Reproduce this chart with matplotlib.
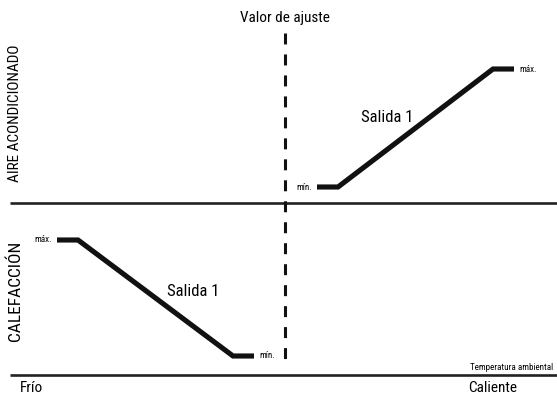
import matplotlib
matplotlib.use("Agg")
import matplotlib.pyplot as plt

plt.rcParams["font.family"] = ["Roboto Condensed", "DejaVu Sans"]
plt.rcParams["lines.scale_dashes"] = False

# schematic coordinates (image units, y grows downward)
heat_x = [57, 78, 233, 254]
heat_y = [240, 240, 356, 356]
cool_x = [317, 338, 493, 514]
cool_y = [187, 187, 69, 69]
setpoint_x = 285
axis_levels = [203, 375]

fig = plt.figure(figsize=(5.57, 3.96), dpi=100)
ax = fig.add_axes([0, 0, 1, 1])
ax.set_xlim(0, 557)
ax.set_ylim(396, 0)
ax.axis("off")

# baselines
for yy in axis_levels:
    ax.plot([10, 557], [yy, yy], color="#222222", lw=1.9, solid_capstyle="butt")

# setpoint dashed line
ax.plot([setpoint_x, setpoint_x], [33, 368], color="#111111", lw=2.2,
        linestyle=(0, (7.9, 7.2)), dash_capstyle="butt")

# output curves
ax.plot(heat_x, heat_y, color="#111111", lw=3.7, solid_capstyle="butt", solid_joinstyle="miter")
ax.plot(cool_x, cool_y, color="#111111", lw=3.7, solid_capstyle="butt", solid_joinstyle="miter")

small = 6.5
ax.text(heat_x[0] - 5, heat_y[0], "máx.", ha="right", va="center", fontsize=small)
ax.text(heat_x[-1] + 5, heat_y[-1], "mín.", ha="left", va="center", fontsize=small)
ax.text(cool_x[0] - 5, cool_y[0], "mín.", ha="right", va="center", fontsize=small)
ax.text(cool_x[-1] + 5, cool_y[-1], "máx.", ha="left", va="center", fontsize=small)

ax.text(193, 292, "Salida 1", ha="center", va="center", fontsize=12)
ax.text(387, 117, "Salida 1", ha="center", va="center", fontsize=12)

ax.text(setpoint_x, 18, "Valor de ajuste", ha="center", va="center", fontsize=11)
ax.text(553, 367, "Temperatura ambiental", ha="right", va="center", fontsize=small)
ax.text(20, 388, "Frío", ha="left", va="center", fontsize=11)
ax.text(517, 388, "Caliente", ha="right", va="center", fontsize=11)

ax.text(15, 113, "AIRE ACONDICIONADO", ha="center", va="center", rotation=90, fontsize=11)
ax.text(15, 291, "CALEFACCIÓN", ha="center", va="center", rotation=90, fontsize=12.5)

fig.savefig("out.png", dpi=100)
